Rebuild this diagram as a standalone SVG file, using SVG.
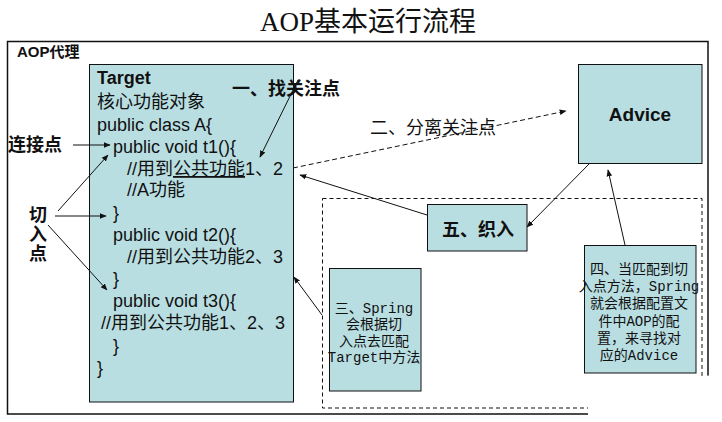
<svg xmlns="http://www.w3.org/2000/svg" width="722" height="422" viewBox="0 0 722 422">
<style>
  .sans { font-family: "Liberation Sans", "Noto Sans CJK SC", sans-serif; fill: #111; }
  .code { font-family: "Liberation Sans", "Noto Sans CJK SC", sans-serif; font-size: 18px; fill: #111; }
  .ser { font-family: "Liberation Serif", "Noto Sans CJK SC", serif; fill: #111; }
  .note { font-family: "Liberation Mono", "Noto Sans CJK SC", monospace; font-size: 14px; fill: #111; text-anchor: middle; }
  .box { fill: #b9dee2; stroke: #111; stroke-width: 1; }
  .conn { stroke: #111; stroke-width: 1; fill: none; marker-end: url(#ah); }
  .dash { stroke-dasharray: 5 3; }
</style>
<defs>
  <marker id="ah" viewBox="0 0 10 10" refX="9" refY="5" markerWidth="7" markerHeight="7" orient="auto">
    <path d="M0,1 L10,5 L0,9 z" fill="#111"/>
  </marker>
</defs>
<rect width="722" height="422" fill="#fff"/>

<text x="368" y="31" class="ser" font-size="27" text-anchor="middle">AOP基本运行流程</text>

<g id="proxy">
  <rect x="7.5" y="41.5" width="700.5" height="372.5" fill="none" stroke="#111" stroke-width="1.5"/>
  <text x="17" y="57" class="sans" font-size="15" font-weight="bold">AOP代理</text>
</g>

<g id="joinarea">
  <rect x="322.5" y="198.5" width="379.5" height="209.5" fill="none" stroke="#111" stroke-width="1" stroke-dasharray="4 3"/>
</g>

<g id="target">
  <rect x="89.5" y="64.5" width="204" height="337.5" class="box"/>
  <text x="97" y="84" class="sans" font-size="18" font-weight="bold">Target</text>
  <text x="97" y="108" class="code">核心功能对象</text>
  <text x="97" y="131" class="code">public class A{</text>
  <text x="113" y="153" class="code">public void t1(){</text>
  <text x="127" y="175" class="code">//用到<tspan text-decoration="underline">公共功能</tspan>1、2</text>
  <text x="127" y="196" class="code">//A功能</text>
  <text x="113" y="219" class="code">}</text>
  <text x="113" y="241" class="code">public void t2(){</text>
  <text x="127" y="263" class="code">//用到公共功能2、3</text>
  <text x="113" y="285" class="code">}</text>
  <text x="113" y="307" class="code">public void t3(){</text>
  <text x="101" y="329" class="code">//用到公共功能1、2、3</text>
  <text x="113" y="352" class="code">}</text>
  <text x="97" y="374" class="code">}</text>
</g>

<g id="advice">
  <rect x="578.5" y="64.5" width="123.5" height="99" class="box"/>
  <text x="640" y="121" class="sans" font-size="19" font-weight="bold" text-anchor="middle">Advice</text>
</g>

<g id="weave">
  <rect x="427.5" y="204.5" width="99.5" height="46.5" class="box"/>
  <text x="478" y="236" class="ser" font-size="18" font-weight="bold" text-anchor="middle">五、织入</text>
</g>

<g id="step3">
  <rect x="329.5" y="268.5" width="91.5" height="122.5" class="box"/>
  <text x="374" y="313" class="note">三、Spring</text>
  <text x="374" y="329" class="note">会根据切</text>
  <text x="374" y="346" class="note">入点去匹配</text>
  <text x="374" y="362" class="note">Target中方法</text>
</g>

<g id="step4">
  <rect x="584.5" y="245.5" width="111.5" height="127.5" class="box"/>
  <text x="639" y="274" class="note">四、当匹配到切</text>
  <text x="639" y="291" class="note">入点方法，Spring</text>
  <text x="639" y="308" class="note">就会根据配置文</text>
  <text x="639" y="326" class="note">件中AOP的配</text>
  <text x="639" y="343" class="note">置，来寻找对</text>
  <text x="639" y="360" class="note">应的Advice</text>
</g>

<g id="labels">
  <text x="8" y="151" class="sans" font-size="18" font-weight="bold">连接点</text>
  <text x="38" y="221" class="sans" font-size="18" font-weight="bold" text-anchor="middle">切</text>
  <text x="38" y="241" class="sans" font-size="18" font-weight="bold" text-anchor="middle">入</text>
  <text x="38" y="260" class="sans" font-size="18" font-weight="bold" text-anchor="middle">点</text>
  <text x="232" y="95" class="sans" font-size="18" font-weight="bold">一、找关注点</text>
  <text x="370" y="134" class="sans" font-size="18" fill="#222">二、分离关注点</text>
</g>

<g id="connectors">
  <line x1="73" y1="145" x2="110" y2="145" class="conn"/>
  <line x1="58" y1="211" x2="108" y2="155" class="conn"/>
  <line x1="55" y1="216" x2="106" y2="216" class="conn"/>
  <line x1="48" y1="225" x2="107" y2="290" class="conn"/>
  <line x1="298" y1="80" x2="260" y2="157" class="conn"/>
  <line x1="293" y1="168" x2="566" y2="111" class="conn dash"/>
  <line x1="427" y1="215" x2="300" y2="175" class="conn"/>
  <line x1="590" y1="163" x2="527" y2="227" class="conn"/>
  <line x1="625" y1="245" x2="608" y2="170" class="conn"/>
  <line x1="322" y1="315" x2="294" y2="277" class="conn"/>
</g>

<path d="M588,380 Q600,374 640,376 L700,376 Q722,374 722,380 L722,422 L588,422 Z" fill="#fff"/>
</svg>
